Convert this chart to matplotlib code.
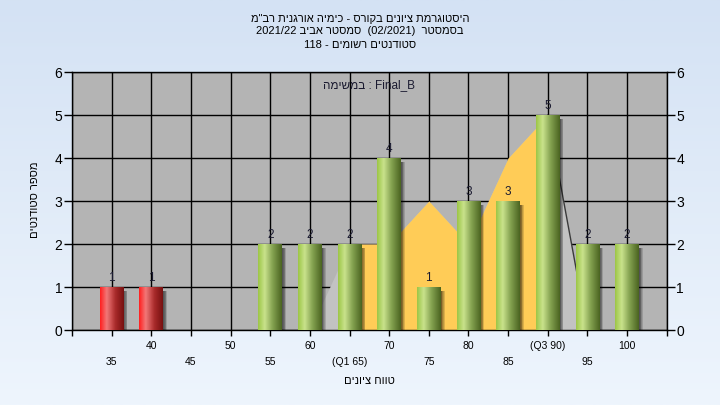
import numpy as np
import matplotlib
matplotlib.use("Agg")
import matplotlib.pyplot as plt
from matplotlib.colors import LinearSegmentedColormap
from matplotlib.patches import Rectangle

# ---------------- data ----------------
bins = [35, 40, 45, 50, 55, 60, 65, 70, 75, 80, 85, 90, 95, 100]
counts = [1, 1, 0, 0, 2, 2, 2, 4, 1, 3, 3, 5, 2, 2]
x_labels = ['35', '40', '45', '50', '55', '60', '(Q1 65)', '70', '75', '80',
            '85', '(Q3 90)', '95', '100']
fail_limit = 55
area_x = [65, 70, 75, 80, 85, 90]
area_y = [2, 2, 3, 2, 4, 5]
shade_x = [60, 65, 70, 75, 80, 85, 90, 95]
shade_y = [0, 2, 2, 3, 2, 4, 5, 0]

# Hebrew text in visual (left-to-right glyph) order
title_lines = ['מ"בר תינגרוא הימיכ - סרוקב םינויצ תמרגוטסיה',
               '2021/22 ביבא רטסמס  (02/2021)  רטסמסב',
               '118 - םימושר םיטנדוטס']
inner_text = 'המישמב : Final_B'
x_title = 'םינויצ חווט'
y_title = 'םיטנדוטס רפסמ'

FONT = ['Liberation Sans', 'DejaVu Sans']
plt.rcParams['font.family'] = FONT

fig = plt.figure(figsize=(7.2, 4.05), dpi=100)

# background gradient
bg = fig.add_axes([0, 0, 1, 1], zorder=-5)
bgcm = LinearSegmentedColormap.from_list('bg', ['#d4e2f4', '#eef5fd'])
bg.imshow(np.linspace(0, 1, 256).reshape(-1, 1), cmap=bgcm, aspect='auto',
          extent=[0, 1, 0, 1])
bg.set_axis_off()

ax = fig.add_axes([0.1, 0.185, 0.826, 0.637], zorder=1)
ax.set_facecolor('#b4b4b4')

green = LinearSegmentedColormap.from_list(
    'g', [(0, '#9cc646'), (0.28, '#c9e28c'), (0.6, '#86a452'), (1, '#4a6320')])
red = LinearSegmentedColormap.from_list(
    'r', [(0, '#ff1e1e'), (0.28, '#f27878'), (0.65, '#a82a2a'), (1, '#761010')])

# background areas
ax.fill_between(shade_x, shade_y, 0, color='#c2c2c2', lw=0, zorder=1)
ax.plot(shade_x[-2:], shade_y[-2:], color='#3a3a3a', lw=1, zorder=1.2)
ax.fill_between(area_x, area_y, 0, color='#ffcc57', lw=0, zorder=1.1)

bw = 3.0
grad = np.linspace(0, 1, 128).reshape(1, -1)
for x, h in zip(bins, counts):
    if h <= 0:
        continue
    cm = red if x < fail_limit else green
    # soft shadow
    for k in range(5):
        ax.add_patch(Rectangle((x - bw / 2 + 0.12 + k * 0.09, -0.02), bw, h - 0.08,
                               color='black', alpha=0.14, lw=0, zorder=2))
    ax.imshow(grad, cmap=cm, aspect='auto', extent=[x - bw / 2, x + bw / 2, 0, h],
              interpolation='bilinear', zorder=3)
    ax.annotate(str(h), (x, h), xytext=(0, 3), textcoords='offset pixels',
                ha='center', va='bottom', fontsize=8.5, color='#1a1a30', zorder=4)

ax.set_xlim(30, 105)
ax.set_ylim(0, 6)
ax.set_xticks(np.arange(30, 106, 5))
ax.set_xticklabels([])
ax.set_yticks(range(0, 7))
ax.grid(True, color='black', lw=1)
ax.set_axisbelow(True)
for s in ax.spines.values():
    s.set_color('black')
    s.set_linewidth(1)
ax.tick_params(axis='x', length=4, width=1, direction='out')
ax.tick_params(axis='y', length=6, width=1, direction='out', right=True,
               labelright=True, labelsize=10, colors='black', pad=1)

for i, (x, lab) in enumerate(zip(bins, x_labels)):
    off = -16 if i % 2 == 1 else -32
    ax.annotate(lab, (x, 0), xycoords=('data', 'axes fraction'),
                xytext=(0, off), textcoords='offset pixels',
                ha='center', va='center', fontsize=7.5, color='black')

ax.text(0.5, -0.198, x_title, transform=ax.transAxes, ha='center', va='center',
        fontsize=8, color='black')
fig.text(35 / 720, 1 - 200 / 405, y_title, rotation=90, ha='center', va='center',
         fontsize=8, color='black')

for i, line in enumerate(title_lines):
    fig.text(0.5, 1 - (18.5 + 13 * i) / 405, line, ha='center', va='center',
             fontsize=8, color='black')

ax.text(0.5, 0.95, inner_text, transform=ax.transAxes, ha='center', va='center',
        fontsize=8.5, color='#1a1a30')

fig.savefig('out.png', dpi=100)
